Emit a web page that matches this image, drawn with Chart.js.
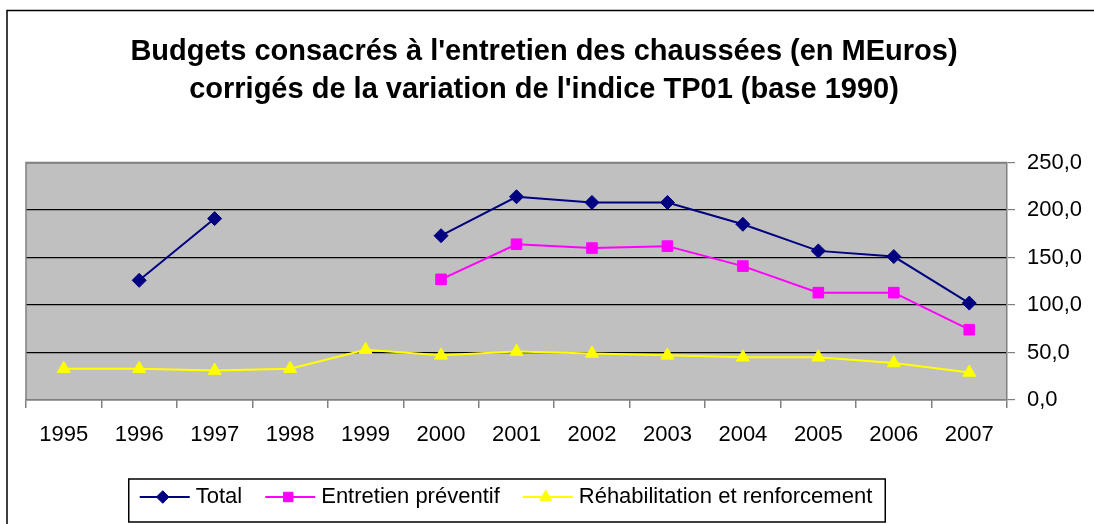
<!DOCTYPE html>
<html>
<head>
<meta charset="utf-8">
<script src="https://cdn.jsdelivr.net/npm/chart.js@4.4.1/dist/chart.umd.min.js"></script>
<style>
  html, body { margin: 0; padding: 0; background: #ffffff; }
  #wrap { position: relative; width: 1094px; height: 524px; }
  canvas { display: block; }
</style>
</head>
<body>
<div id="wrap"><canvas id="c" width="1094" height="524"></canvas></div>
<script>
// ---- Data ----
const titleLines = [
  "Budgets consacrés à l'entretien des chaussées (en MEuros)",
  "corrigés de la variation de l'indice TP01 (base 1990)"
];
const years = ["1995","1996","1997","1998","1999","2000","2001","2002","2003","2004","2005","2006","2007"];
const seriesNames = ["Total", "Entretien préventif", "Réhabilitation et renforcement"];
const totalValues = [null, 126, 191, null, null, 173, 214, 208, 208, 185, 157, 151, 102];
const preventifValues = [null, null, null, null, null, 127, 164, 160, 162, 141, 113, 113, 74];
const rehabValues = [33, 33, 31, 33, 53, 47, 51, 49, 47, 45, 45, 39, 29];
const yTicks = [0, 50, 100, 150, 200, 250];

const tickFamily = '"Liberation Sans", Arial, sans-serif';
const tickSize = 22;
const legendPad = 24;

const colors = ['#000080', '#FF00FF', '#FFFF00'];
const pointStyles = ['rectRot', 'rect', 'triangle'];
const pointRadii = [7, 7.5, 7.5];

function drawMarker(ctx, style, x, y, r, color) {
  ctx.save();
  ctx.fillStyle = color;
  ctx.strokeStyle = color;
  ctx.lineWidth = 1;
  ctx.beginPath();
  if (style === 'rectRot') {
    ctx.moveTo(x, y - r); ctx.lineTo(x + r, y); ctx.lineTo(x, y + r); ctx.lineTo(x - r, y);
  } else if (style === 'rect') {
    const s = r * Math.SQRT1_2;
    ctx.rect(x - s, y - s, 2 * s, 2 * s);
  } else {
    ctx.moveTo(x, y - r);
    ctx.lineTo(x + r * 0.866, y + r / 2);
    ctx.lineTo(x - r * 0.866, y + r / 2);
  }
  ctx.closePath();
  ctx.fill();
  ctx.stroke();
  ctx.restore();
}

// ---- Plugins ----
const chartDecor = {
  id: 'chartDecor',
  afterLayout(chart) {
    const lg = chart.legend;
    if (lg) { lg.left -= 10; lg.right -= 10; }
    const tb = chart.titleBlock;
    if (tb) { tb.left -= 16; tb.right -= 16; }
  },
  beforeDraw(chart) {
    const {ctx, chartArea: a} = chart;
    ctx.save();
    ctx.fillStyle = '#C0C0C0';
    ctx.fillRect(a.left, a.top, a.right - a.left, a.bottom - a.top);
    ctx.restore();
  },
  beforeDatasetsDraw(chart) {
    const {ctx, chartArea: a} = chart;
    ctx.save();
    ctx.strokeStyle = '#808080';
    ctx.lineWidth = 1.5;
    ctx.beginPath();
    ctx.moveTo(a.left, a.bottom);
    ctx.lineTo(a.left, a.top);
    ctx.lineTo(a.right, a.top);
    ctx.stroke();
    ctx.restore();
  },
  afterDraw(chart) {
    const ctx = chart.ctx;
    ctx.save();
    // outer chart frame (continues past the visible picture on right/bottom)
    ctx.strokeStyle = '#000000';
    ctx.lineWidth = 1.5;
    ctx.beginPath();
    ctx.moveTo(7, 524);
    ctx.lineTo(7, 10.5);
    ctx.lineTo(1094, 10.5);
    ctx.stroke();

    // legend: line + marker for each entry, and frame
    const lg = chart.legend;
    if (lg && lg.legendHitBoxes && lg.legendHitBoxes.length) {
      const hb = lg.legendHitBoxes;
      hb.forEach((h, i) => {
        const cy = h.top + h.height / 2;
        ctx.strokeStyle = colors[i];
        ctx.lineWidth = 2;
        ctx.beginPath();
        ctx.moveTo(h.left - 1, cy);
        ctx.lineTo(h.left + 49, cy);
        ctx.stroke();
        drawMarker(ctx, pointStyles[i], h.left + 22, cy, pointRadii[i] * 0.9, colors[i]);
      });
      const last = hb[hb.length - 1];
      const left = hb[0].left - 12;
      const right = last.left + last.width + 13;
      const top = hb[0].top - 7;
      const bottom = hb[0].top + 36;
      ctx.strokeStyle = '#000000';
      ctx.lineWidth = 1.5;
      ctx.strokeRect(left, top, right - left, bottom - top);
    }
    ctx.restore();
  }
};

const seriesData = [totalValues, preventifValues, rehabValues];

const chart = new Chart(document.getElementById('c'), {
  type: 'line',
  data: {
    labels: years,
    datasets: seriesNames.map((name, i) => ({
      label: name,
      data: seriesData[i],
      borderColor: colors[i],
      backgroundColor: colors[i],
      borderWidth: 2,
      pointStyle: pointStyles[i],
      pointRadius: pointRadii[i],
      pointHoverRadius: pointRadii[i],
      pointBorderWidth: 1,
      pointBorderColor: colors[i],
      pointBackgroundColor: colors[i],
      spanGaps: false,
      tension: 0,
      fill: false
    }))
  },
  options: {
    responsive: false,
    animation: false,
    devicePixelRatio: 1,
    layout: { padding: { left: 26, right: 0, top: 0, bottom: 6 } },
    plugins: {
      title: {
        display: true,
        text: titleLines,
        color: '#000000',
        font: { family: '"Liberation Sans", Arial, sans-serif', size: 29, weight: 'bold', lineHeight: 1.32 },
        padding: { top: 33, bottom: 53 }
      },
      legend: {
        display: true,
        position: 'bottom',
        fullSize: false,
        labels: {
          color: '#000000',
          font: { family: tickFamily, size: tickSize },
          padding: legendPad,
          usePointStyle: true,
          pointStyleWidth: 44,
          generateLabels: (ch) => seriesNames.map((n, i) => ({
            text: n,
            fillStyle: 'rgba(0,0,0,0)',
            strokeStyle: 'rgba(0,0,0,0)',
            lineWidth: 0,
            pointStyle: 'line',
            datasetIndex: i,
            hidden: false
          }))
        }
      },
      tooltip: { enabled: false }
    },
    scales: {
      x: {
        type: 'category',
        offset: true,
        grid: {
          offset: true,
          drawOnChartArea: false,
          drawTicks: true,
          tickLength: 8,
          color: '#808080',
          lineWidth: 1.5
        },
        border: { display: true, color: '#808080', width: 1.5 },
        ticks: {
          color: '#000000',
          font: { family: tickFamily, size: tickSize },
          padding: 14,
          maxRotation: 0,
          autoSkip: false
        },
        afterFit: (s) => { s.height = 62; }
      },
      y: {
        position: 'right',
        min: 0,
        max: 250,
        afterBuildTicks: (s) => { s.ticks = yTicks.map(v => ({ value: v })); },
        grid: {
          color: '#000000',
          lineWidth: 1.2,
          drawTicks: true,
          tickLength: 8,
          tickColor: '#808080'
        },
        border: { display: true, color: '#808080', width: 1.5 },
        ticks: {
          color: '#000000',
          font: { family: tickFamily, size: tickSize },
          padding: 12,
          callback: (v) => Number(v).toFixed(1).replace('.', ',')
        },
        afterFit: (s) => { s.width = 87; }
      }
    }
  },
  plugins: [chartDecor]
});
</script>
</body>
</html>
